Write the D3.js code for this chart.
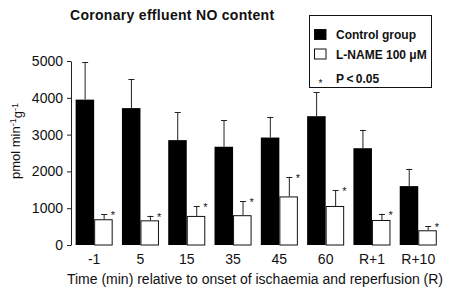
<!DOCTYPE html>
<html>
<head>
<meta charset="utf-8">
<script src="https://cdn.jsdelivr.net/npm/d3@7"></script>
<style>
  body { margin: 0; background: #fff; }
  svg { display: block; font-family: "Liberation Sans", Arial, Helvetica, sans-serif; }
</style>
</head>
<body>
<div id="chart"><svg></svg></div>
<script>
// values
var times = ["-1", "5", "15", "35", "45", "60", "R+1", "R+10"];
var controlMean = [3950, 3720, 2850, 2670, 2920, 3500, 2630, 1600];
var controlErr = [1010, 790, 760, 730, 560, 650, 500, 470];
var lnameMean = [700, 670, 790, 810, 1320, 1060, 680, 400];
var lnameErr = [135, 125, 260, 385, 530, 430, 170, 115];
var yTicks = [0, 1000, 2000, 3000, 4000, 5000];
var groups = ["control", "lname"];

var svg = d3.select("#chart").select("svg")
    .attr("width", 450)
    .attr("height", 288);

var data = times.map(function (t, i) {
    return {
        time: t,
        values: [
            { group: "control", mean: controlMean[i], err: controlErr[i] },
            { group: "lname", mean: lnameMean[i], err: lnameErr[i] }
        ]
    };
});

var xScale = d3.scaleBand()
    .domain(times)
    .range([71, 441.4])
    .paddingInner(0.2)
    .paddingOuter(0.1);

var xScale1 = d3.scaleBand()
    .domain(groups)
    .range([0, xScale.bandwidth()]);

var yScale = d3.scaleLinear()
    .domain([0, 5000])
    .range([245, 61]);

// y axis
var yAxis = svg.append("g")
    .attr("transform", "translate(71,0)")
    .call(d3.axisLeft(yScale).tickValues(yTicks).tickFormat(d3.format("d"))
        .tickSize(4).tickSizeOuter(0).tickPadding(4));
yAxis.select(".domain").attr("stroke", "#222");
yAxis.selectAll(".tick line").attr("stroke", "#222");
yAxis.selectAll("text")
    .attr("fill", "#111")
    .style("font-size", "14px");

// x axis labels only
var xAxis = svg.append("g")
    .attr("transform", "translate(0,245)")
    .call(d3.axisBottom(xScale).tickSize(0).tickPadding(9));
xAxis.select(".domain").remove();
xAxis.selectAll("text")
    .attr("fill", "#111")
    .style("font-size", "14px");

var slice = svg.selectAll(".slice")
    .data(data)
    .enter().append("g")
    .attr("class", "slice")
    .attr("transform", function (d) { return "translate(" + xScale(d.time) + ",0)"; });

// bars
slice.selectAll("rect")
    .data(function (d) { return d.values; })
    .enter().append("rect")
    .attr("x", function (d) { return xScale1(d.group) + (d.group == "lname" ? 0.5 : 0); })
    .attr("y", function (d) { return yScale(d.mean) + (d.group == "lname" ? 0.5 : 0); })
    .attr("width", function (d) { return xScale1.bandwidth() - (d.group == "lname" ? 1 : 0); })
    .attr("height", function (d) { return yScale(0) - yScale(d.mean) - (d.group == "lname" ? 0.5 : 0); })
    .attr("fill", function (d) { return d.group == "control" ? "#000" : "#fff"; })
    .attr("stroke", function (d) { return d.group == "control" ? "none" : "#111"; })
    .attr("stroke-width", 1);

// error bars
var err = slice.selectAll(".err")
    .data(function (d) { return d.values; })
    .enter().append("g")
    .attr("class", "err")
    .attr("transform", function (d) {
        return "translate(" + Math.round(xScale1(d.group) + xScale1.bandwidth() / 2) + ".5,0)";
    });

err.append("line")
    .attr("y1", function (d) { return yScale(d.mean); })
    .attr("y2", function (d) { return yScale(d.mean + d.err); })
    .attr("stroke", "#222");

err.append("line")
    .attr("x1", -3).attr("x2", 3)
    .attr("y1", function (d) { return Math.round(yScale(d.mean + d.err)) + 0.5; })
    .attr("y2", function (d) { return Math.round(yScale(d.mean + d.err)) + 0.5; })
    .attr("stroke", "#222");

// significance stars
err.filter(function (d) { return d.group == "lname"; })
    .append("text")
    .attr("x", 6.5)
    .attr("y", function (d) { return yScale(d.mean + d.err) + 5; })
    .style("font-size", "11px")
    .attr("fill", "#111")
    .text("*");

// title
svg.append("text")
    .attr("x", 70)
    .attr("y", 20)
    .style("font-size", "14px")
    .style("letter-spacing", "0.3px")
    .style("font-weight", "bold")
    .attr("fill", "#111")
    .text("Coronary effluent NO content");

// axis titles
svg.append("text")
    .attr("x", 255)
    .attr("y", 284)
    .attr("text-anchor", "middle")
    .style("font-size", "14px")
    .attr("fill", "#111")
    .text("Time (min) relative to onset of ischaemia and reperfusion (R)");

var ytitle = svg.append("text")
    .attr("transform", "translate(20,141) rotate(-90)")
    .attr("text-anchor", "middle")
    .style("font-size", "13px")
    .attr("fill", "#111");
ytitle.append("tspan").text("pmol min");
ytitle.append("tspan").attr("dy", "-0.45em").style("font-size", "9px").text("-1");
ytitle.append("tspan").attr("dy", "0.45em").text("g");
ytitle.append("tspan").attr("dy", "-0.45em").style("font-size", "9px").text("-1");

// legend
var legend = svg.append("g").attr("class", "legend");
legend.append("rect")
    .attr("x", 309.5).attr("y", 15.5)
    .attr("width", 122).attr("height", 72)
    .attr("fill", "#fff")
    .attr("stroke", "#111");

var legendItems = [
    { label: "Control group", fill: "#000", y: 29 },
    { label: "L-NAME 100 μM", fill: "#fff", y: 48.5 }
];
legendItems.forEach(function (it) {
    legend.append("rect")
        .attr("x", 314.5).attr("y", it.y + 0.5)
        .attr("width", 11.5).attr("height", 10)
        .attr("fill", it.fill)
        .attr("stroke", "#111");
    legend.append("text")
        .attr("x", 336).attr("y", it.y + 10)
        .style("font-size", "12px")
        .style("font-weight", "bold")
        .attr("fill", "#111")
        .text(it.label);
});
legend.append("text")
    .attr("x", 320.5).attr("y", 87)
    .attr("text-anchor", "middle")
    .style("font-size", "10px")
    .attr("fill", "#111")
    .text("*");
legend.append("text")
    .attr("x", 336).attr("y", 83)
    .style("font-size", "12px")
    .style("font-weight", "bold")
    .attr("fill", "#111")
    .text("P\u2009<\u20090.05");
</script>
</body>
</html>
